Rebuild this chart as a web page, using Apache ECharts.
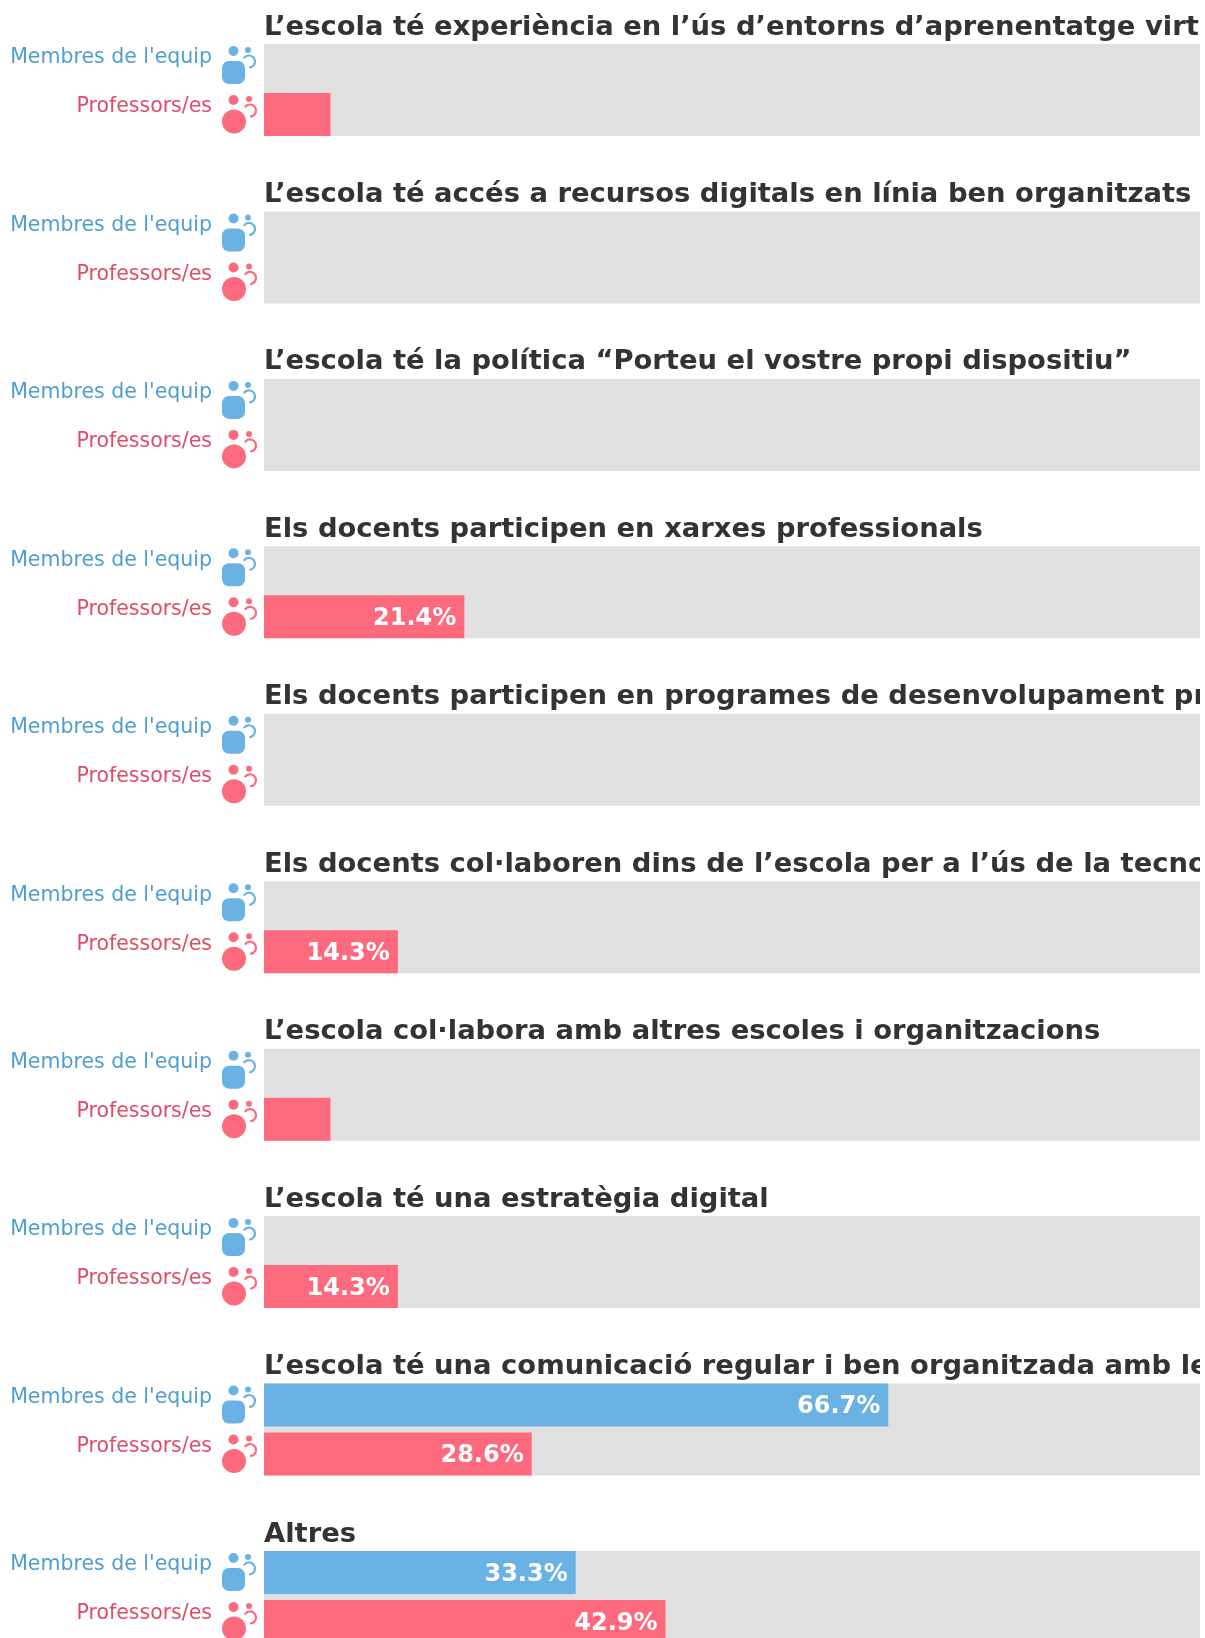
<!DOCTYPE html>
<html>
<head>
<meta charset="utf-8">
<title>Chart</title>
<script src="https://cdn.jsdelivr.net/npm/echarts@6/dist/echarts.min.js"></script>
<style>
  html, body { margin: 0; padding: 0; background: #fff; overflow: hidden; }
  #chartmain { width: 1200px; height: 1638px; }
</style>
</head>
<body>
<div id="chartmain"></div>
<script>
// data
var titles = [
  'L’escola té experiència en l’ús d’entorns d’aprenentatge virtuals',
  'L’escola té accés a recursos digitals en línia ben organitzats',
  'L’escola té la política “Porteu el vostre propi dispositiu”',
  'Els docents participen en xarxes professionals',
  'Els docents participen en programes de desenvolupament professional',
  'Els docents col·laboren dins de l’escola per a l’ús de la tecnologia',
  'L’escola col·labora amb altres escoles i organitzacions',
  'L’escola té una estratègia digital',
  'L’escola té una comunicació regular i ben organitzada amb les famílies',
  'Altres'
];
var groups = ["Membres de l'equip", 'Professors/es'];
var membres = [0, 0, 0, 0, 0, 0, 0, 0, 66.7, 33.3];
var professors = [7.1, 0, 0, 21.4, 0, 14.3, 7.1, 14.3, 28.6, 42.9];
var fullScale = [100];

window.onload = function () {
  var blue = '#6bb2e4', red = '#fd6a7d';
  var blueText = '#4f9ecf', redText = '#df4c66';
  var firstTop = 44, step = 167.44;

  var option = {
    animation: false,
    backgroundColor: '#fff',
    title: [], grid: [], xAxis: [], yAxis: [], series: [], graphic: []
  };

  function barLabel() {
    return {
      show: true,
      position: 'insideRight',
      distance: 8,
      offset: [0, 2],
      color: '#fff',
      fontFamily: 'DejaVu Sans',
      fontWeight: 'bold',
      fontSize: 24,
      // the thin bars carry no label in the original
      formatter: function (p) { return p.value >= 10 ? p.value + '%' : ''; }
    };
  }

  // two little people, drawn next to each row label
  function addIcon(y, isBlue) {
    var c = isBlue ? blue : red;
    var list = option.graphic;
    list.push({ type: 'circle', silent: true, shape: { cx: 233.5, cy: y + 7, r: 5 }, style: { fill: c } });
    list.push({ type: 'circle', silent: true, shape: { cx: isBlue ? 248 : 249, cy: y + 6, r: 3 }, style: { fill: c } });
    if (isBlue) {
      list.push({ type: 'rect', silent: true, shape: { x: 222, y: y + 17, width: 23, height: 23, r: 7 }, style: { fill: c } });
    } else {
      list.push({ type: 'circle', silent: true, shape: { cx: 234, cy: y + 28.5, r: 12 }, style: { fill: c } });
    }
    list.push({
      type: 'arc', silent: true,
      shape: { cx: isBlue ? 249 : 250, cy: y + 17.5, r: 6, startAngle: -2.45, endAngle: 1.4, clockwise: true },
      style: { fill: 'none', stroke: c, lineWidth: 2.2, lineCap: 'round' }
    });
  }

  titles.forEach(function (name, i) {
    var top = firstTop + step * i;

    option.title.push({
      text: name,
      left: 264,
      top: top - 30,
      padding: 0,
      textStyle: { color: '#333', fontFamily: 'DejaVu Sans', fontWeight: 'bold', fontSize: 27.4 }
    });

    // band of 49px so the 43px bars sit 6px apart and touch the grey track edges
    option.grid.push({ left: 264, width: 936, top: top - 3, height: 98, outerBoundsMode: 'none' });
    option.xAxis.push({ type: 'value', gridIndex: i, min: 0, max: 100, show: false });
    option.yAxis.push({
      type: 'category', gridIndex: i, inverse: true, data: groups,
      axisLine: { show: false }, axisTick: { show: false }, splitLine: { show: false },
      axisLabel: {
        margin: 52,
        verticalAlign: 'bottom',
        lineHeight: 15,
        fontFamily: 'DejaVu Sans',
        fontSize: 20.5,
        color: function (v) { return v === groups[0] ? blueText : redText; }
      }
    });
    option.yAxis.push({ type: 'category', gridIndex: i, data: [''], show: false });

    option.series.push({
      type: 'bar', xAxisIndex: i, yAxisIndex: i * 2 + 1, barWidth: 92, z: 1, silent: true,
      itemStyle: { color: '#e0e0e0' }, data: fullScale
    });
    option.series.push({
      type: 'bar', xAxisIndex: i, yAxisIndex: i * 2, barWidth: 43, barGap: '-100%', z: 2,
      itemStyle: { color: blue }, label: barLabel(),
      data: [membres[i], null]
    });
    option.series.push({
      type: 'bar', xAxisIndex: i, yAxisIndex: i * 2, barWidth: 43, barGap: '-100%', z: 2,
      itemStyle: { color: red }, label: barLabel(),
      data: [null, professors[i]]
    });

    addIcon(top, true);
    addIcon(top + 49, false);
  });

  var myChart = echarts.init(document.getElementById('chartmain'), null, { renderer: 'canvas' });
  myChart.setOption(option);
};
</script>
</body>
</html>
